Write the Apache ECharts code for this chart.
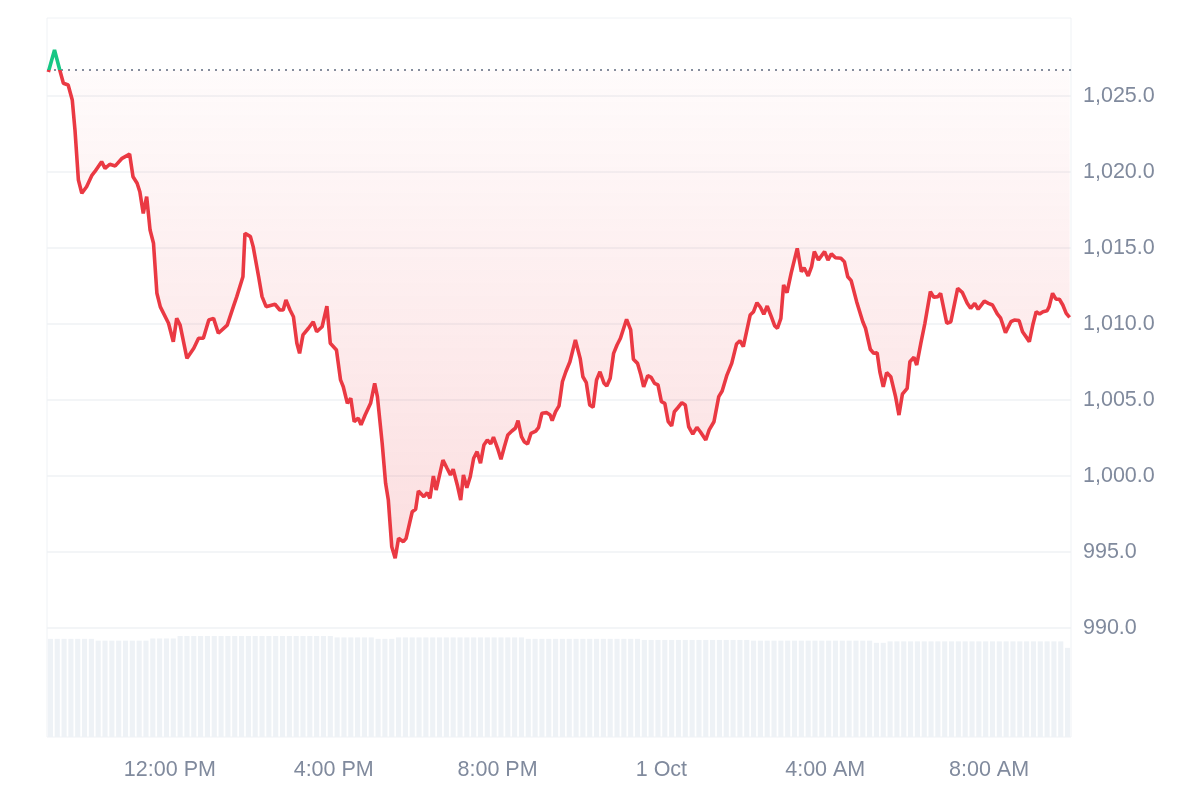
<!DOCTYPE html>
<html>
<head>
<meta charset="utf-8">
<title>Price chart</title>
<script src="https://cdn.jsdelivr.net/npm/echarts@6/dist/echarts.min.js"></script>
<style>
  html, body { margin: 0; padding: 0; background: #fff; }
  #main { width: 1200px; height: 800px; }
</style>
</head>
<body>
<div id="main"></div>
<script>
// minutes after 9:00 AM (30 Sep) and price
var minutes = [
  2, 11, 19, 24, 31, 37, 41, 46, 51, 58, 66, 70, 80, 85, 92, 100, 110, 121, 126, 132,
  136, 141, 146, 151, 156, 161, 166, 178, 185, 190, 195, 205, 215, 222, 229, 237, 244, 251, 264, 273,
  278, 287, 290, 298, 302, 310, 315, 321, 334, 341, 346, 350, 356, 361, 366, 370, 375, 383, 390, 395,
  403, 410, 415, 424, 430, 434, 440, 445, 450, 456, 460, 466, 474, 480, 484, 491, 496, 500, 505, 510,
  515, 522, 526, 535, 540, 544, 552, 557, 561, 566, 570, 580, 586, 591, 595, 601, 606, 610, 615, 620,
  625, 630, 635, 640, 645, 650, 654, 660, 665, 670, 675, 681, 686, 690, 695, 699, 704, 709, 716, 720,
  725, 732, 737, 740, 745, 750, 755, 760, 766, 774, 781, 785, 790, 795, 800, 805, 810, 816, 820, 825,
  830, 835, 840, 849, 855, 859, 865, 870, 874, 880, 885, 890, 895, 900, 905, 910, 915, 919, 924, 930,
  935, 940, 946, 952, 957, 965, 970, 977, 984, 989, 996, 1003, 1010, 1015, 1020, 1030, 1035, 1040, 1045, 1050,
  1055, 1061, 1066, 1070, 1075, 1079, 1084, 1090, 1099, 1105, 1109, 1115, 1120, 1124, 1130, 1139, 1144, 1149, 1155, 1163,
  1168, 1173, 1178, 1186, 1195, 1199, 1206, 1211, 1216, 1220, 1225, 1230, 1236, 1243, 1248, 1253, 1260, 1264, 1270, 1274,
  1280, 1286, 1294, 1299, 1305, 1309, 1318, 1324, 1334, 1341, 1348, 1353, 1359, 1364, 1373, 1379, 1385, 1392, 1397, 1404,
  1412, 1417, 1424, 1429, 1434, 1439, 1444, 1449, 1454, 1459, 1465, 1468, 1473, 1478, 1483, 1488, 1493, 1498
]
var prices = [
  1026.58, 1028.03, 1026.66, 1025.84, 1025.72, 1024.74, 1022.76, 1019.47, 1018.60, 1019.03, 1019.80, 1020.02, 1020.68, 1020.24, 1020.51, 1020.40, 1020.90, 1021.18, 1019.69, 1019.26,
  1018.70, 1017.28, 1018.38, 1016.18, 1015.31, 1012.02, 1011.13, 1010.05, 1008.83, 1010.37, 1009.93, 1007.74, 1008.40, 1009.06, 1009.06, 1010.26, 1010.37, 1009.39, 1009.93, 1011.14,
  1011.80, 1013.11, 1015.97, 1015.75, 1015.09, 1013.11, 1011.80, 1011.14, 1011.30, 1010.92, 1010.92, 1011.58, 1010.92, 1010.48, 1008.73, 1008.07, 1009.28, 1009.72, 1010.15, 1009.49,
  1009.82, 1011.18, 1008.73, 1008.29, 1006.32, 1005.87, 1004.78, 1005.11, 1003.57, 1003.80, 1003.36, 1004.01, 1004.78, 1006.10, 1005.22, 1002.15, 999.52, 998.42, 995.35, 994.59,
  995.90, 995.68, 995.90, 997.65, 997.81, 999.01, 998.64, 998.90, 998.53, 1000.00, 999.08, 1001.05, 1000.51, 1000.07, 1000.44, 999.41, 998.42, 1000.07, 999.23, 999.95,
  1001.17, 1001.60, 1000.84, 1002.04, 1002.37, 1002.11, 1002.55, 1001.82, 1001.10, 1001.93, 1002.70, 1002.96, 1003.14, 1003.64, 1002.59, 1002.26, 1002.11, 1002.81, 1002.96, 1003.18,
  1004.13, 1004.17, 1004.01, 1003.64, 1004.23, 1004.61, 1006.20, 1006.86, 1007.52, 1008.95, 1007.74, 1006.53, 1006.14, 1004.67, 1004.52, 1006.32, 1006.86, 1006.10, 1005.92, 1006.43,
  1008.07, 1008.62, 1009.06, 1010.31, 1009.61, 1007.68, 1007.41, 1006.64, 1005.87, 1006.60, 1006.49, 1006.10, 1005.99, 1004.89, 1004.78, 1003.57, 1003.29, 1004.23, 1004.49, 1004.82,
  1004.67, 1003.24, 1002.76, 1003.20, 1002.91, 1002.37, 1003.03, 1003.57, 1005.22, 1005.59, 1006.64, 1007.41, 1008.68, 1008.90, 1008.51, 1010.59, 1010.81, 1011.40, 1011.10, 1010.64,
  1011.18, 1010.48, 1009.87, 1009.72, 1010.37, 1012.57, 1012.06, 1013.33, 1014.98, 1013.44, 1013.70, 1013.16, 1013.77, 1014.76, 1014.21, 1014.76, 1014.21, 1014.61, 1014.36, 1014.32,
  1014.10, 1013.11, 1012.85, 1011.47, 1010.15, 1009.72, 1008.34, 1008.07, 1008.11, 1006.86, 1005.87, 1006.80, 1006.53, 1005.22, 1004.01, 1005.38, 1005.77, 1007.52, 1007.81, 1007.30,
  1008.73, 1010.05, 1012.13, 1011.76, 1011.80, 1012.02, 1010.05, 1010.15, 1012.35, 1012.06, 1011.36, 1011.03, 1011.36, 1010.97, 1011.51, 1011.36, 1011.25, 1010.66, 1010.38, 1009.43,
  1010.15, 1010.26, 1010.22, 1009.49, 1009.17, 1008.84, 1009.93, 1010.81, 1010.66, 1010.81, 1010.87, 1011.14, 1012.02, 1011.63, 1011.63, 1011.25, 1010.70, 1010.43
]
// 24h volume (billions), one bar per 10 min
var volumes = [
  27.3, 27.3, 27.3, 27.3, 27.3, 27.3, 27.3, 26.8, 26.8, 26.8, 26.8, 26.8, 26.8, 26.8, 26.8, 27.4, 27.4, 27.4, 27.4, 28.1,
  28.1, 28.1, 28.1, 28.1, 28.1, 28.1, 28.1, 28.1, 28.1, 28.1, 28.1, 28.1, 28.1, 28.1, 28.1, 28.1, 28.1, 28.1, 28.1, 28.1,
  28.1, 28.1, 27.7, 27.7, 27.7, 27.7, 27.7, 27.7, 27.3, 27.3, 27.3, 27.7, 27.7, 27.7, 27.7, 27.7, 27.7, 27.7, 27.7, 27.7,
  27.7, 27.7, 27.7, 27.7, 27.7, 27.7, 27.7, 27.7, 27.7, 27.7, 27.3, 27.3, 27.3, 27.3, 27.3, 27.3, 27.3, 27.3, 27.3, 27.3,
  27.3, 27.3, 27.3, 27.3, 27.3, 27.3, 27.3, 27.0, 27.0, 27.0, 27.0, 27.0, 27.0, 27.0, 27.0, 27.0, 27.0, 27.0, 27.0, 27.0,
  27.0, 27.0, 27.0, 26.8, 26.8, 26.8, 26.8, 26.8, 26.8, 26.8, 26.8, 26.8, 26.8, 26.8, 26.8, 26.8, 26.8, 26.8, 26.8, 26.8,
  26.8, 26.2, 26.2, 26.6, 26.6, 26.6, 26.6, 26.6, 26.6, 26.6, 26.6, 26.6, 26.6, 26.6, 26.6, 26.6, 26.6, 26.6, 26.6, 26.6,
  26.6, 26.6, 26.6, 26.6, 26.6, 26.6, 26.6, 26.6, 26.6, 24.8
]
var tickMinutes = [180, 420, 660, 900, 1140, 1380]
var tickLabels = ['12:00 PM', '4:00 PM', '8:00 PM', '1 Oct', '4:00 AM', '8:00 AM']
var openPrice = 1026.7

var red = '#ea3943'
var green = '#16c784'
var textColor = '#808a9d'
var lineColor = '#eff2f5'

var chart = echarts.init(document.getElementById('main'))

var pricePoints = minutes.map(function (m, i) { return [m, prices[i]] })
var volSlots = volumes.map(function (v, i) { return String(i) })

var option = {
  animation: false,
  textStyle: { fontFamily: 'Liberation Sans, Arial, sans-serif' },
  grid: [
    // price
    { left: 47, right: 129, top: 20, bottom: 172 },
    // volume + outer frame
    { left: 47, right: 129, top: 18, bottom: 63, show: true, borderColor: lineColor, borderWidth: 1 }
  ],
  xAxis: [
    {
      type: 'value',
      gridIndex: 0,
      min: 0,
      max: 1500,
      axisLine: { show: false },
      axisTick: { show: false },
      splitLine: { show: false },
      axisLabel: {
        customValues: tickMinutes,
        margin: 131,
        color: textColor,
        fontSize: 21.5,
        formatter: function (v) {
          var i = tickMinutes.indexOf(v)
          return i >= 0 ? tickLabels[i] : ''
        }
      }
    },
    {
      type: 'category',
      gridIndex: 1,
      data: volSlots,
      boundaryGap: true,
      axisLine: { show: false },
      axisTick: { show: false },
      axisLabel: { show: false },
      splitLine: { show: false }
    }
  ],
  yAxis: [
    {
      type: 'value',
      gridIndex: 0,
      position: 'right',
      min: 990,
      max: 1030,
      interval: 5,
      axisLine: { show: false },
      axisTick: { show: false },
      axisLabel: {
        margin: 12,
        color: textColor,
        fontSize: 21.5,
        showMaxLabel: false,
        formatter: function (v) {
          return v.toLocaleString('en-US', { minimumFractionDigits: 1, maximumFractionDigits: 1 })
        }
      },
      splitLine: { show: true, showMaxLine: false, lineStyle: { color: lineColor, width: 1.5 } }
    },
    {
      type: 'value',
      gridIndex: 1,
      min: 0,
      max: 200,
      axisLine: { show: false },
      axisTick: { show: false },
      axisLabel: { show: false },
      splitLine: { show: false }
    }
  ],
  visualMap: {
    type: 'piecewise',
    show: false,
    seriesIndex: 0,
    dimension: 1,
    pieces: [
      { gt: 900, lte: openPrice, color: red },
      { gt: openPrice, lte: 1100, color: green }
    ]
  },
  series: [
    {
      name: 'Price',
      type: 'line',
      xAxisIndex: 0,
      yAxisIndex: 0,
      data: pricePoints,
      showSymbol: false,
      z: 5,
      lineStyle: { width: 3.6 },
      areaStyle: {
        origin: openPrice,
        color: new echarts.graphic.LinearGradient(0, 0, 0, 1, [
          { offset: 0, color: 'rgba(234,57,67,0.02)' },
          { offset: 1, color: 'rgba(234,57,67,0.24)' }
        ])
      },
      markLine: {
        silent: true,
        symbol: 'none',
        label: { show: false },
        lineStyle: { color: '#858e9e', type: [2, 5], width: 2 },
        data: [{ yAxis: openPrice }]
      }
    },
    {
      name: 'Volume',
      type: 'bar',
      xAxisIndex: 1,
      yAxisIndex: 1,
      data: volumes,
      silent: true,
      barCategoryGap: '25%',
      itemStyle: { color: '#eef2f6' }
    }
  ]
}

chart.setOption(option)
</script>
</body>
</html>
